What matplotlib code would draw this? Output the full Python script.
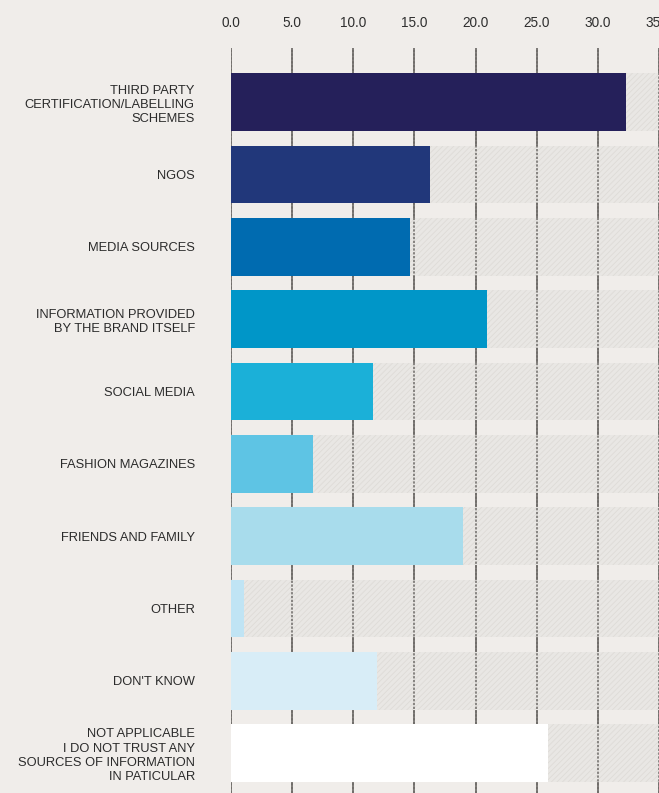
import matplotlib
matplotlib.use("Agg")
import matplotlib.pyplot as plt

# sources of information shoppers trust (share of respondents, %)
categories = [
    "THIRD PARTY\nCERTIFICATION/LABELLING\nSCHEMES",
    "NGOS",
    "MEDIA SOURCES",
    "INFORMATION PROVIDED\nBY THE BRAND ITSELF",
    "SOCIAL MEDIA",
    "FASHION MAGAZINES",
    "FRIENDS AND FAMILY",
    "OTHER",
    "DON'T KNOW",
    "NOT APPLICABLE\nI DO NOT TRUST ANY\nSOURCES OF INFORMATION\nIN PATICULAR",
]
values = [32.3, 16.3, 14.6, 20.9, 11.6, 6.7, 19.0, 1.1, 11.9, 25.9]
colors = ["#25205a", "#21377a", "#006bb0", "#0096c8", "#1bb0d8",
          "#5ec4e4", "#a8dcec", "#c0e4f4", "#d8edf7", "#ffffff"]
xticks = [0, 5, 10, 15, 20, 25, 30, 35]
xticklabels = ["0.0", "5.0", "10.0", "15.0", "20.0", "25.0", "30.0", "35.0"]

bg = "#f0edea"
grid_col = "#6d6a67"
plt.rcParams["font.family"] = ["Liberation Sans", "DejaVu Sans"]
plt.rcParams["hatch.color"] = "#dedbd7"
plt.rcParams["hatch.linewidth"] = 0.6

fig = plt.figure(figsize=(6.59, 7.93), dpi=100, facecolor=bg)
ax = fig.add_axes([0.3505, 0.0, 0.6495, 0.9395])
ax.set_facecolor(bg)

pos = list(range(len(categories)))

# solid grid lines (visible in the gaps between rows)
for t in xticks:
    ax.axvline(t, color=grid_col, lw=1.2, zorder=0.5)

# hatched track behind each bar
ax.barh(pos, [100] * len(pos), height=0.8, color="#e9e7e4",
        hatch="//////", edgecolor="#dedbd7", lw=0, zorder=1)

# grid lines look dashed through the track
for t in xticks:
    ax.axvline(t, color=grid_col, lw=1.1, ls=(0, (1.5, 1)), zorder=1.5)

ax.barh(pos, values, height=0.8, color=colors, lw=0, zorder=3)

ax.set_xlim(0, 34.8)
ax.set_ylim(9.55, -0.75)

ax.xaxis.tick_top()
ax.set_xticks(xticks)
ax.set_xticklabels(xticklabels, fontsize=9.8, color="#2e2e2e")
ax.tick_params(axis="x", length=0, pad=13)
for lbl in ax.get_xticklabels():
    lbl.set_clip_on(False)

ax.set_yticks(pos)
ax.set_yticklabels(categories, fontsize=9.3, color="#2b2b2b",
                   linespacing=1.25, ha="right")
ax.tick_params(axis="y", length=0, pad=26)

for s in ax.spines.values():
    s.set_visible(False)

fig.savefig("out.png", dpi=100, facecolor=bg)
